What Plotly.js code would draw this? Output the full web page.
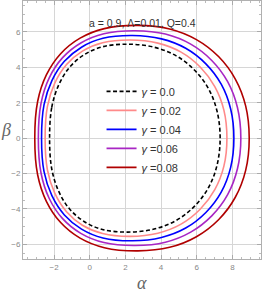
<!DOCTYPE html>
<html>
<head>
<meta charset="utf-8">
<script src="https://cdn.plot.ly/plotly-3.0.1.min.js"></script>
<style>html,body{margin:0;padding:0;background:#fff;}#chart{width:262px;height:293px;}</style>
</head>
<body>
<div id="chart"></div>
<script>
// Upper half of each shadow contour (alpha, beta), right -> over top -> left
const alpha0  = [7.31, 7.14, 6.66, 5.88, 4.85, 3.61, 2.14, 0.71, -0.32, -1.15, -1.75, -2.13, -2.25];
const betaUp0 = [0, 1.51, 2.79, 3.84, 4.65, 5.14, 5.31, 5.16, 4.71, 3.98, 2.98, 1.73, 0];

const alpha2  = [7.69, 7.52, 7.01, 6.19, 5.12, 3.82, 2.27, 0.72, -0.41, -1.30, -1.96, -2.37, -2.5];
const betaUp2 = [0, 1.58, 2.91, 4.02, 4.86, 5.37, 5.55, 5.39, 4.92, 4.16, 3.11, 1.80, 0];

const alpha4  = [8.08, 7.90, 7.37, 6.51, 5.38, 4.02, 2.4, 0.74, -0.46, -1.42, -2.12, -2.56, -2.7];
const betaUp4 = [0, 1.65, 3.05, 4.20, 5.08, 5.61, 5.8, 5.64, 5.14, 4.34, 3.25, 1.89, 0];

const alpha6  = [8.47, 8.28, 7.73, 6.84, 5.66, 4.24, 2.55, 0.79, -0.50, -1.52, -2.27, -2.73, -2.88];
const betaUp6 = [0, 1.73, 3.19, 4.39, 5.31, 5.88, 6.07, 5.90, 5.38, 4.55, 3.41, 1.97, 0];

const alpha8  = [8.94, 8.74, 8.16, 7.22, 5.98, 4.48, 2.7, 0.82, -0.54, -1.63, -2.43, -2.92, -3.08];
const betaUp8 = [0, 1.82, 3.34, 4.61, 5.57, 6.17, 6.37, 6.19, 5.65, 4.77, 3.57, 2.07, 0];

const legendNames = ["<i>γ</i> = 0.0", "<i>γ</i> = 0.02", "<i>γ</i> = 0.04", "<i>γ</i> =0.06", "<i>γ</i> =0.08"];
const colors = ["#000000", "#ff8a8a", "#0000ff", "#a826c4", "#b00000"];
const dashes = ["4px,2.5px", "solid", "solid", "solid", "solid"];
const xTicks = [-2, 0, 2, 4, 6, 8];
const yTicks = [-6, -4, -2, 0, 2, 4, 6];
const titleText = "a = 0.9, Λ=0.01, Q=0.4";

// full closed contour starting at the flat left side: upper half (left -> top -> right),
// then the mirrored lower half (right -> bottom -> left); the shadow is symmetric about beta = 0
function closed(a, b) {
  const xs = [], ys = [];
  for (let i = a.length - 1; i >= 0; i--) { xs.push(a[i]); ys.push(b[i]); }
  for (let i = 1; i < a.length; i++) { xs.push(a[i]); ys.push(-b[i]); }
  return [xs, ys];
}
const sets = [[alpha0, betaUp0], [alpha2, betaUp2], [alpha4, betaUp4], [alpha6, betaUp6], [alpha8, betaUp8]];
const traces = sets.map((s, i) => {
  const [xs, ys] = closed(s[0], s[1]);
  return {x: xs, y: ys, type: "scatter", mode: "lines", name: legendNames[i],
    line: {color: colors[i], width: 1.6, dash: dashes[i], shape: "spline", smoothing: 1}};
});

const tickFont = {family: "Liberation Sans, Arial, sans-serif", size: 8, color: "#888"};
const axisCommon = {
  showgrid: true, gridcolor: "#d6d6d6", gridwidth: 1, zeroline: false,
  showline: true, linecolor: "#b0b0b0", linewidth: 1, mirror: "allticks",
  ticks: "inside", ticklen: 4, tickcolor: "#aaa", tickwidth: 1,
  tickfont: tickFont, minor: {ticks: "inside", ticklen: 2, dtick: 0.5, tickcolor: "#bbb", showgrid: false}
};

const layout = {
  width: 262, height: 293,
  margin: {l: 23, r: 1, t: 1, b: 34},
  paper_bgcolor: "#fff", plot_bgcolor: "#fff",
  showlegend: true,
  legend: {x: 0.33, y: 0.706, xanchor: "left", yanchor: "top", bgcolor: "rgba(0,0,0,0)",
    font: {family: "Liberation Sans, Arial, sans-serif", size: 11, color: "#333"}},
  xaxis: Object.assign({}, axisCommon, {range: [-3.74, 9.6], tickvals: xTicks, ticktext: xTicks.map(v => v < 0 ? "−" + (-v) : String(v))}),
  yaxis: Object.assign({}, axisCommon, {range: [-6.83, 7.75], tickvals: yTicks, ticktext: yTicks.map(v => v < 0 ? "−" + (-v) : String(v))}),
  annotations: [
    {text: titleText, xref: "paper", yref: "paper", x: 0.5, y: 0.946, xanchor: "center", showarrow: false,
      font: {family: "Liberation Sans, Arial, sans-serif", size: 10.5, color: "#333"}},
    {text: "<i>α</i>", xref: "paper", yref: "paper", x: 0.5, y: 0, xanchor: "center", yanchor: "middle", yshift: -24, showarrow: false,
      font: {family: "Liberation Serif, serif", size: 18, color: "#666"}},
    {text: "<i>β</i>", xref: "paper", yref: "paper", x: 0, xanchor: "center", xshift: -17, y: 0.5, yanchor: "middle", showarrow: false,
      font: {family: "Liberation Serif, serif", size: 18, color: "#666"}}
  ]
};

Plotly.newPlot("chart", traces, layout, {displayModeBar: false, staticPlot: true});
</script>
</body>
</html>
